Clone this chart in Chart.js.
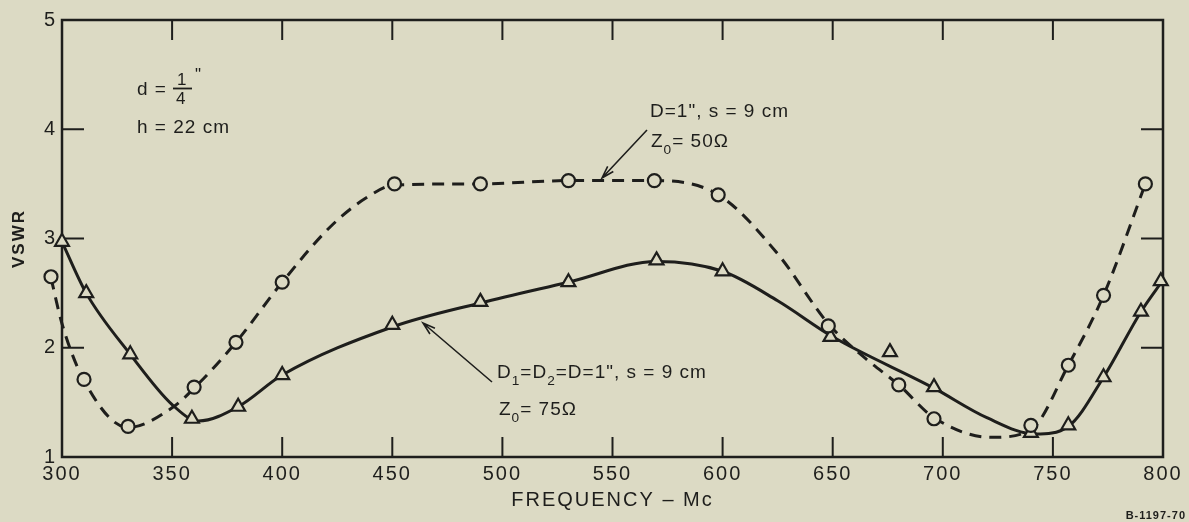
<!DOCTYPE html>
<html>
<head>
<meta charset="utf-8">
<script src="https://cdn.jsdelivr.net/npm/chart.js@4"></script>
<style>
  html, body { margin: 0; padding: 0; background: #dcdac4; }
  canvas { display: block; }
</style>
</head>
<body>
<canvas id="vswrChart" width="1189" height="522"></canvas>
<script>
// measured points, Z0 = 50 ohm (circles)
const circleFreq = [295, 310, 330, 360, 379, 400, 451, 490, 530, 569, 598, 648, 680, 696, 740, 757, 773, 792];
const circleVswr = [2.65, 1.71, 1.28, 1.64, 2.05, 2.60, 3.50, 3.50, 3.53, 3.53, 3.40, 2.20, 1.66, 1.35, 1.29, 1.84, 2.48, 3.50];

// measured points, Z0 = 75 ohm (triangles)
const triangleFreq = [300, 311, 331, 359, 380, 400, 450, 490, 530, 570, 600, 649, 676, 696, 740, 757, 773, 790, 799];
const triangleVswr = [2.97, 2.50, 1.94, 1.35, 1.46, 1.75, 2.21, 2.42, 2.60, 2.80, 2.70, 2.10, 1.96, 1.64, 1.22, 1.29, 1.73, 2.33, 2.61];

// faired curves as drawn on the sheet
const dashedFreq = [295, 300, 310, 330, 350, 360, 379, 400, 422, 438, 451, 490, 530, 569, 598, 625, 648, 665, 680, 696, 722, 740, 757, 773, 792];
const dashedVswr = [2.64, 2.22, 1.70, 1.27, 1.45, 1.63, 2.05, 2.60, 3.11, 3.37, 3.49, 3.50, 3.53, 3.53, 3.40, 2.86, 2.22, 1.90, 1.66, 1.36, 1.18, 1.25, 1.84, 2.48, 3.50];
const solidFreq = [300, 311, 331, 350, 362, 380, 400, 450, 490, 530, 570, 600, 625, 650, 696, 720, 742, 757, 773, 790, 800];
const solidVswr = [2.97, 2.50, 1.94, 1.48, 1.33, 1.46, 1.75, 2.19, 2.41, 2.60, 2.79, 2.70, 2.43, 2.10, 1.63, 1.36, 1.21, 1.28, 1.73, 2.33, 2.62];

const xTicks = [300, 350, 400, 450, 500, 550, 600, 650, 700, 750, 800];
const yTicks = [1, 2, 3, 4, 5];

const INK = '#1e1e1c';
const PAPER = '#dcdac4';
const FONT = '"Liberation Sans", Arial, sans-serif';

function pts(xs, ys) {
    return xs.map((x, i) => ({ x: x, y: ys[i] }));
}

function drawRuns(ctx, x, y, runs, size) {
    runs.forEach(r => {
        const s = r.sub ? size * 0.72 : size;
        ctx.font = `${s}px ${FONT}`;
        ctx.fillText(r.t, x, y + (r.sub ? size * 0.42 : 0));
        x += ctx.measureText(r.t).width;
    });
}

function arrow(ctx, x1, y1, x2, y2) {
    // line from (x1,y1) with open head at (x2,y2)
    const a = Math.atan2(y2 - y1, x2 - x1);
    ctx.beginPath();
    ctx.moveTo(x1, y1);
    ctx.lineTo(x2, y2);
    ctx.moveTo(x2 - 13 * Math.cos(a - 0.3), y2 - 13 * Math.sin(a - 0.3));
    ctx.lineTo(x2, y2);
    ctx.lineTo(x2 - 13 * Math.cos(a + 0.3), y2 - 13 * Math.sin(a + 0.3));
    ctx.stroke();
}

const paperPlugin = {
    id: 'paper',
    beforeDraw(chart) {
        const ctx = chart.ctx;
        ctx.save();
        ctx.fillStyle = PAPER;
        ctx.fillRect(0, 0, chart.width, chart.height);
        ctx.restore();
        ctx.letterSpacing = '2px';
    },
    beforeDatasetsDraw(chart) {
        // frame with inward ticks on all four sides
        const ctx = chart.ctx;
        const { left, right, top, bottom } = chart.chartArea;
        const xs = chart.scales.x, ys = chart.scales.y;
        ctx.save();
        ctx.strokeStyle = INK;
        ctx.lineWidth = 2.5;
        ctx.strokeRect(left, top, right - left, bottom - top);
        ctx.lineWidth = 2;
        ctx.beginPath();
        xTicks.slice(1, -1).forEach(v => {
            const px = xs.getPixelForValue(v);
            ctx.moveTo(px, bottom); ctx.lineTo(px, bottom - 20);
            ctx.moveTo(px, top); ctx.lineTo(px, top + 20);
        });
        yTicks.slice(1, -1).forEach(v => {
            const py = ys.getPixelForValue(v);
            ctx.moveTo(left, py); ctx.lineTo(left + 22, py);
            ctx.moveTo(right, py); ctx.lineTo(right - 22, py);
        });
        ctx.stroke();
        ctx.restore();
    },
    afterDatasetsDraw(chart) {
        // Chart.js culls markers lying outside the axis range; the sheet shows one left of 300 Mc
        const ctx = chart.ctx;
        const xs = chart.scales.x, ys = chart.scales.y;
        ctx.save();
        ctx.strokeStyle = INK;
        ctx.fillStyle = PAPER;
        ctx.lineWidth = 2.2;
        circleFreq.forEach((f, i) => {
            if (f >= xs.min) return;
            ctx.beginPath();
            ctx.arc(xs.getPixelForValue(f), ys.getPixelForValue(circleVswr[i]), 6.5, 0, Math.PI * 2);
            ctx.fill();
            ctx.stroke();
        });
        ctx.restore();
    },
    afterDraw(chart) {
        const ctx = chart.ctx;
        ctx.save();
        ctx.fillStyle = INK;
        ctx.strokeStyle = INK;
        ctx.textBaseline = 'middle';
        ctx.textAlign = 'left';
        ctx.letterSpacing = '1px';

        // d = 1/4", h = 22 cm
        drawRuns(ctx, 137, 90, [{ t: 'd =' }], 19);
        ctx.font = `17px ${FONT}`;
        ctx.fillText('1', 177, 80);
        ctx.fillText('4', 176, 99);
        ctx.fillText('"', 195, 75);
        ctx.lineWidth = 1.8;
        ctx.beginPath();
        ctx.moveTo(173, 88.5); ctx.lineTo(192, 88.5);
        ctx.stroke();
        drawRuns(ctx, 137, 128, [{ t: 'h = 22 cm' }], 19);

        // 50 ohm label
        drawRuns(ctx, 650, 112, [{ t: 'D=1", s = 9 cm' }], 19);
        drawRuns(ctx, 651, 142, [{ t: 'Z' }, { t: '0', sub: true }, { t: '= 50Ω' }], 19);
        ctx.lineWidth = 1.6;
        arrow(ctx, 647, 130, 602, 178);

        // 75 ohm label
        drawRuns(ctx, 497, 373, [{ t: 'D' }, { t: '1', sub: true }, { t: '=D' }, { t: '2', sub: true }, { t: '=D=1", s = 9 cm' }], 19);
        drawRuns(ctx, 499, 410, [{ t: 'Z' }, { t: '0', sub: true }, { t: '= 75Ω' }], 19);
        arrow(ctx, 492, 382, 423, 323);

        // drawing number
        ctx.font = `bold 11px ${FONT}`;
        ctx.textAlign = 'right';
        ctx.fillText('B-1197-70', 1186, 516);
        ctx.restore();
    }
};

const ctx = document.getElementById('vswrChart').getContext('2d');

const vswrChart = new Chart(ctx, {
    type: 'line',
    data: {
        datasets: [
            {
                label: 'Z0 = 50 ohm points',
                data: pts(circleFreq, circleVswr),
                showLine: false,
                pointStyle: 'circle',
                pointRadius: 6.5,
                pointBorderWidth: 2.2,
                pointBorderColor: INK,
                pointBackgroundColor: PAPER,
                clip: false
            },
            {
                label: 'Z0 = 75 ohm points',
                data: pts(triangleFreq, triangleVswr),
                showLine: false,
                pointStyle: 'triangle',
                pointRadius: 8,
                pointBorderWidth: 2.2,
                pointBorderColor: INK,
                pointBackgroundColor: PAPER,
                clip: false
            },
            {
                label: 'Z0 = 50 ohm',
                data: pts(dashedFreq, dashedVswr),
                borderColor: INK,
                borderWidth: 3,
                borderDash: [12, 8],
                pointRadius: 0,
                cubicInterpolationMode: 'monotone',
                tension: 0.4,
                clip: false
            },
            {
                label: 'Z0 = 75 ohm',
                data: pts(solidFreq, solidVswr),
                borderColor: INK,
                borderWidth: 3,
                pointRadius: 0,
                cubicInterpolationMode: 'monotone',
                tension: 0.4,
                clip: false
            }
        ]
    },
    options: {
        responsive: false,
        animation: false,
        devicePixelRatio: 1,
        layout: { padding: { top: 20, right: 26, left: 0, bottom: 0 } },
        plugins: {
            legend: { display: false },
            tooltip: { enabled: false }
        },
        scales: {
            x: {
                type: 'linear',
                min: 300,
                max: 800,
                afterBuildTicks: s => { s.ticks = xTicks.map(v => ({ value: v })); },
                afterFit: s => { s.height = 65; },
                grid: { display: false, drawTicks: false },
                border: { display: false },
                ticks: {
                    color: INK,
                    padding: 5,
                    maxRotation: 0,
                    autoSkip: false,
                    font: { family: FONT, size: 20 }
                },
                title: {
                    display: true,
                    text: 'FREQUENCY – Mc',
                    color: INK,
                    padding: { top: 0, bottom: 10 },
                    font: { family: FONT, size: 20 }
                }
            },
            y: {
                type: 'linear',
                min: 1,
                max: 5,
                afterBuildTicks: s => { s.ticks = yTicks.map(v => ({ value: v })); },
                afterFit: s => { s.width = 62; },
                grid: { display: false, drawTicks: false },
                border: { display: false },
                ticks: {
                    color: INK,
                    padding: 5,
                    font: { family: FONT, size: 20 }
                },
                title: {
                    display: true,
                    text: 'VSWR',
                    color: INK,
                    padding: { top: 9, bottom: 0 },
                    font: { family: FONT, size: 17, weight: 'bold' }
                }
            }
        }
    },
    plugins: [paperPlugin]
});
</script>
</body>
</html>
